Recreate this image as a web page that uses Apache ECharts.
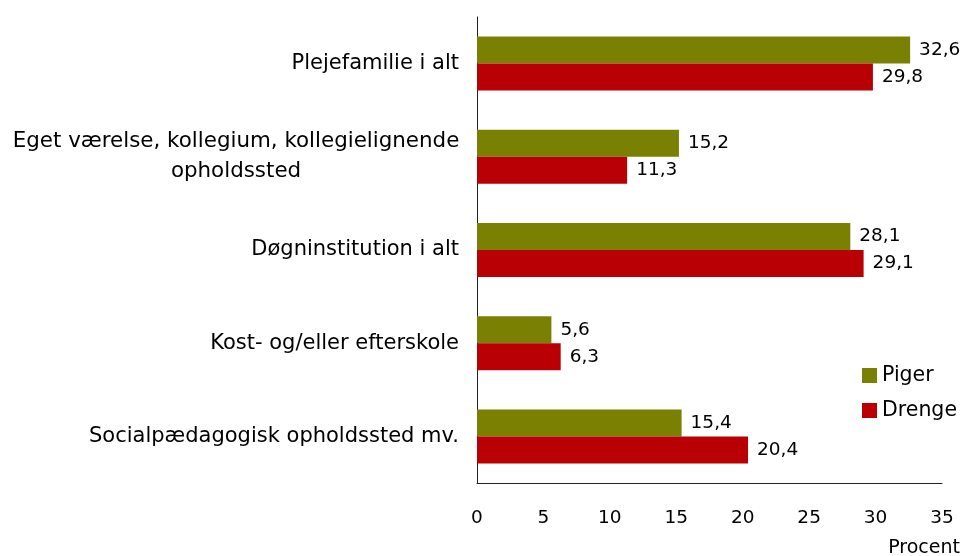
<!DOCTYPE html>
<html>
<head>
<meta charset="utf-8">
<script src="https://cdn.jsdelivr.net/npm/echarts@6/dist/echarts.min.js"></script>
<style>
  html, body { margin: 0; padding: 0; background: #fff; }
  #chart { width: 963px; height: 556px; }
</style>
</head>
<body>
<div id="chart"></div>
<script>
// categories, top to bottom
const categories = [
  'Plejefamilie i alt',
  'Eget værelse, kollegium, kollegielignende\nopholdssted',
  'Døgninstitution i alt',
  'Kost- og/eller efterskole',
  'Socialpædagogisk opholdssted mv.'
];
const piger = [32.6, 15.2, 28.1, 5.6, 15.4];
const drenge = [29.8, 11.3, 29.1, 6.3, 20.4];
const xTicks = [0, 5, 10, 15, 20, 25, 30, 35];

const FONT = 'DejaVu Sans';
const fmt = v => String(v).replace('.', ',');

const chart = echarts.init(document.getElementById('chart'));

chart.setOption({
  animation: false,
  textStyle: { fontFamily: FONT },
  grid: { left: 477, right: 21, top: 17, bottom: 73, containLabel: false },
  legend: {
    orient: 'vertical',
    left: 857,
    top: 360,
    itemWidth: 15,
    itemHeight: 15,
    itemGap: 14,
    icon: 'rect',
    textStyle: { fontFamily: FONT, fontSize: 20.5, color: '#000' },
    data: ['Piger', 'Drenge']
  },
  xAxis: {
    type: 'value',
    min: xTicks[0],
    max: xTicks[xTicks.length - 1],
    interval: 5,
    splitLine: { show: false },
    axisTick: { show: false },
    axisLine: { show: true, lineStyle: { color: '#222', width: 1 } },
    axisLabel: { margin: 26, fontSize: 18.5, color: '#000', fontFamily: FONT }
  },
  yAxis: {
    type: 'category',
    inverse: true,
    data: categories,
    axisTick: { show: false },
    axisLine: { show: true, lineStyle: { color: '#222', width: 1 } },
    axisLabel: {
      margin: 18,
      fontSize: 21,
      color: '#000',
      fontFamily: FONT,
      lineHeight: 30,
      formatter: v => v.indexOf('\n') >= 0
        ? v.split('\n').map(s => '{c|' + s + '}').join('\n')
        : v,
      rich: {
        c: { align: 'center', width: 446, fontSize: 21.4, fontFamily: FONT, color: '#000', lineHeight: 30 }
      }
    }
  },
  series: [
    {
      name: 'Piger',
      type: 'bar',
      data: piger,
      barWidth: 27,
      barGap: '0%',
      itemStyle: { color: '#7a8002' },
      label: { show: true, position: 'right', distance: 9, fontSize: 18.5, color: '#000', fontFamily: FONT, formatter: p => fmt(p.value) }
    },
    {
      name: 'Drenge',
      type: 'bar',
      data: drenge,
      barWidth: 27,
      barGap: '0%',
      itemStyle: { color: '#b80005' },
      label: { show: true, position: 'right', distance: 9, fontSize: 18.5, color: '#000', fontFamily: FONT, formatter: p => fmt(p.value) }
    }
  ],
  graphic: [
    {
      type: 'text',
      right: 3,
      top: 539,
      style: { text: 'Procent', fontSize: 19, fontFamily: FONT, fill: '#000' }
    }
  ]
});
</script>
</body>
</html>
